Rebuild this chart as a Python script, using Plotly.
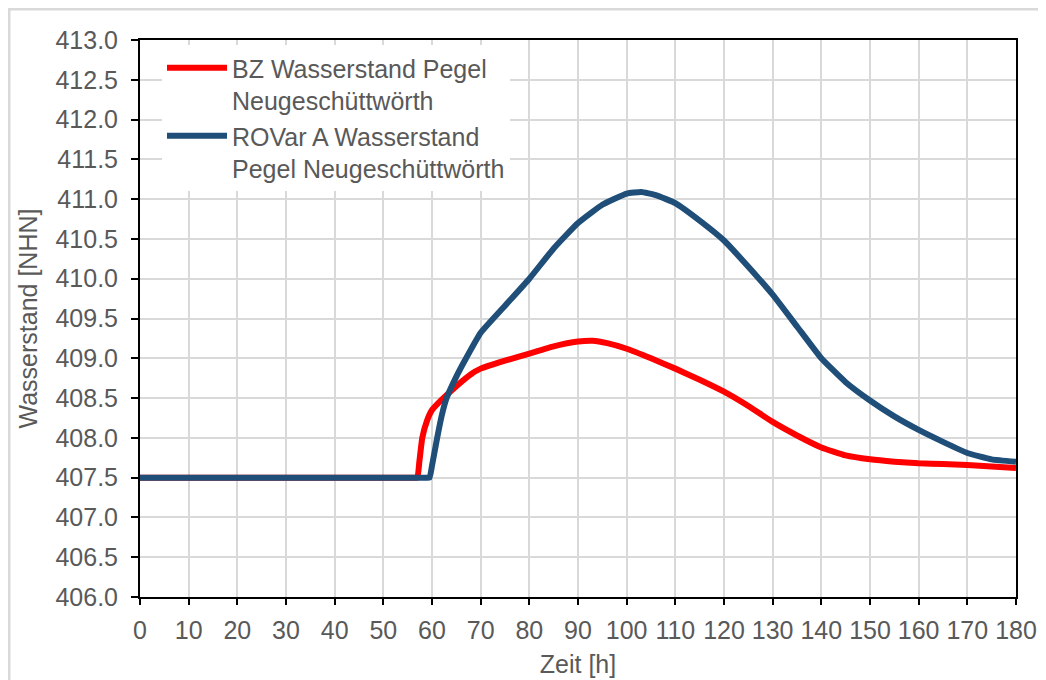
import plotly.graph_objects as go

# Data
bz_t = [0, 10, 20, 30, 40, 50, 55, 56.5, 57, 57.4, 58, 59, 60, 62, 65, 68, 70, 75, 80, 85, 90, 93, 96, 100,
        105, 110, 115, 120, 125, 130, 135, 140, 145, 150, 155, 160, 165, 170, 175, 180]
bz_v = [407.5, 407.5, 407.5, 407.5, 407.5, 407.5, 407.5, 407.5, 407.5, 407.7, 408.0, 408.22, 408.35, 408.48,
        408.65, 408.8, 408.87, 408.97, 409.06, 409.15, 409.21, 409.22, 409.19, 409.12,
        409.0, 408.87, 408.73, 408.58, 408.4, 408.2, 408.03, 407.88, 407.78, 407.73, 407.7, 407.68,
        407.67, 407.66, 407.64, 407.62]

rov_t = [0, 10, 20, 30, 40, 50, 56, 58.5, 59.5, 60, 61, 62, 63, 65, 67, 70, 75, 80, 85, 90, 95, 100, 103, 106,
         110, 115, 120, 125, 130, 135, 140, 145, 150, 155, 160, 165, 170, 175, 180]
rov_v = [407.5, 407.5, 407.5, 407.5, 407.5, 407.5, 407.5, 407.5, 407.5, 407.65, 407.98, 408.28, 408.5,
         408.77, 409.0, 409.32, 409.66, 410.0, 410.38, 410.7, 410.93, 411.07, 411.09, 411.05,
         410.95, 410.73, 410.48, 410.15, 409.8, 409.4, 409.0, 408.7, 408.47, 408.27, 408.1, 407.95,
         407.81, 407.73, 407.7]

x_ticks = list(range(0, 181, 10))
y_ticks = [406.0 + 0.5 * i for i in range(15)]

name_bz = "BZ Wasserstand Pegel<br>Neugeschüttwörth"
name_rov = "ROVar A Wasserstand<br>Pegel Neugeschüttwörth"

FONT = "Liberation Sans, Arial, sans-serif"
GREY = "#595959"
FS = 25

fig = go.Figure()
fig.add_trace(go.Scatter(x=bz_t, y=bz_v, mode="lines", name=name_bz, legendgroup="bz",
                         line=dict(color="#FF0000", width=6, shape="spline", smoothing=0.4)))
fig.add_trace(go.Scatter(x=rov_t, y=rov_v, mode="lines", name=name_rov, legendgroup="rov",
                         line=dict(color="#1F4E79", width=6, shape="spline", smoothing=0.4)))

# page body adds an 8px offset; figure sized to fit the window exactly
W, H = 1038, 672
L, R, T, B = 132, 30, 32, 83
pw, ph = W - L - R, H - T - B

fig.update_layout(
    width=W, height=H,
    margin=dict(l=L, r=R, t=T, b=B, autoexpand=False),
    paper_bgcolor="white", plot_bgcolor="white",
    font=dict(family=FONT, size=FS, color=GREY),
    showlegend=True,
    legend=dict(x=22 / pw, y=1 - 5 / ph, xanchor="left", yanchor="top",
                bgcolor="white", borderwidth=0, font=dict(size=FS, color=GREY),
                itemwidth=60, tracegroupgap=21, traceorder="normal", valign="top"),
    xaxis=dict(range=[0, 180], tickmode="array", tickvals=x_ticks,
               ticktext=[str(v) for v in x_ticks], automargin=False,
               showgrid=True, gridcolor="#D9D9D9", gridwidth=2,
               showline=True, linecolor="black", linewidth=2, mirror=True,
               ticks="outside", ticklen=6, tickwidth=2, tickcolor="black",
               ticklabelstandoff=4,
               zeroline=False, title=dict(text="Zeit [h]", standoff=12,
                                          font=dict(size=FS, color=GREY))),
    yaxis=dict(range=[406, 413], tickmode="array", tickvals=y_ticks,
               ticktext=[f"{v:.1f}" for v in y_ticks], automargin=False,
               showgrid=True, gridcolor="#D9D9D9", gridwidth=2,
               showline=True, linecolor="black", linewidth=2, mirror=True,
               ticks="outside", ticklen=7, tickwidth=2, tickcolor="black",
               ticklabelstandoff=8,
               zeroline=False, title=dict(text="Wasserstand [NHN]", standoff=11,
                                          font=dict(size=FS, color=GREY))),
)

# Outer chart border
fig.add_shape(type="rect", xref="paper", yref="paper",
              x0=(1 - L) / pw, x1=(W + 3 - L) / pw,
              y0=-(H + 3 - T - ph) / ph, y1=1 + (T - 1) / ph,
              line=dict(color="#D9D9D9", width=3), layer="below")

fig.write_html("out.html")
